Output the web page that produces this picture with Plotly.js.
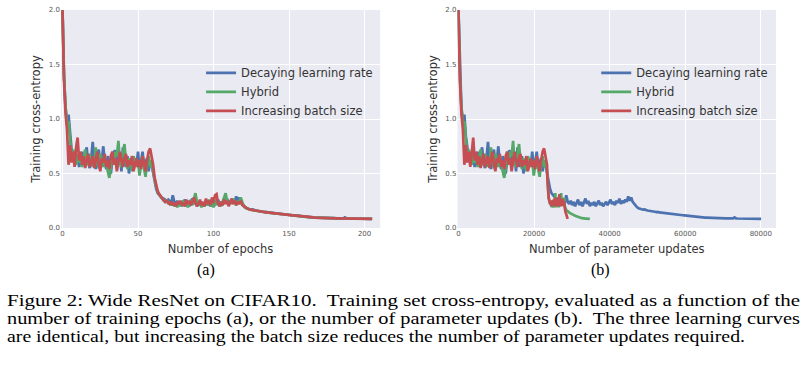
<!DOCTYPE html>
<html>
<head>
<meta charset="utf-8">
<script src="https://cdn.plot.ly/plotly-3.0.1.min.js"></script>
<style>html,body{margin:0;padding:0;background:#fff;}#chart{width:807px;height:380px;}</style>
</head>
<body>
<div id="chart"></div>
<script>
// ---- data, one value per epoch 0..205 ----
const seriesNames = ["Decaying learning rate", "Hybrid", "Increasing batch size"];
const seriesColors = ["#4C72B0", "#55A868", "#C44E52"];

const lossDecaying = [
  2.00,1.40,1.10,0.98,1.04,0.84,0.72,0.64,0.70,0.60,
  0.66,0.56,0.62,0.70,0.58,0.66,0.74,0.60,0.55,0.64,
  0.79,0.62,0.54,0.66,0.72,0.58,0.62,0.75,0.60,0.54,
  0.66,0.58,0.50,0.62,0.70,0.71,0.56,0.64,0.68,0.52,
  0.74,0.62,0.56,0.66,0.50,0.60,0.64,0.55,0.62,0.58,
  0.70,0.52,0.62,0.70,0.56,0.60,0.64,0.52,0.62,0.58,
  0.50,0.42,0.36,0.32,0.30,0.28,0.27,0.27,0.26,0.25,
  0.26,0.24,0.23,0.30,0.24,0.22,0.25,0.21,0.24,0.20,
  0.23,0.26,0.21,0.24,0.20,0.23,0.27,0.22,0.25,0.20,
  0.23,0.21,0.24,0.20,0.22,0.25,0.21,0.23,0.20,0.22,
  0.24,0.21,0.23,0.26,0.22,0.24,0.21,0.25,0.23,0.27,
  0.22,0.25,0.23,0.26,0.24,0.29,0.25,0.28,0.24,0.22,
  0.21,
  0.190,0.182,0.176,0.172,0.168,0.170,0.163,0.160,0.158,0.154,
  0.152,0.150,0.149,0.146,0.148,0.143,0.141,0.140,0.138,0.136,
  0.135,0.133,0.131,0.130,0.128,0.126,0.125,0.123,0.122,0.120,
  0.118,0.117,0.116,0.114,0.113,0.112,0.110,0.109,0.108,0.107,
  0.103,0.101,0.100,0.099,0.098,0.097,0.096,0.096,0.095,0.094,
  0.094,0.093,0.093,0.092,0.092,0.091,0.091,0.090,0.090,0.090,
  0.089,0.089,0.089,0.088,0.088,0.088,0.098,0.088,0.087,0.087,
  0.087,0.087,0.086,0.086,0.086,0.086,0.086,0.085,0.085,0.085,
  0.085,0.085,0.084,0.084,0.084
];
const lossHybrid = [
  2.00,1.38,1.12,0.95,0.98,0.80,0.66,0.72,0.62,0.58,
  0.68,0.60,0.66,0.56,0.64,0.72,0.58,0.62,0.68,0.56,
  0.62,0.58,0.74,0.60,0.55,0.68,0.62,0.56,0.64,0.58,
  0.50,0.46,0.55,0.64,0.58,0.70,0.66,0.80,0.60,0.56,
  0.68,0.77,0.62,0.54,0.64,0.58,0.52,0.66,0.60,0.56,
  0.62,0.48,0.58,0.66,0.54,0.47,0.60,0.66,0.56,0.62,
  0.52,0.44,0.38,0.33,0.31,0.28,0.27,0.25,0.24,0.26,
  0.22,0.24,0.21,0.23,0.20,0.22,0.19,0.23,0.20,0.22,
  0.25,0.20,0.22,0.19,0.23,0.26,0.21,0.28,0.32,0.24,
  0.21,0.23,0.19,0.22,0.20,0.24,0.21,0.26,0.20,0.23,
  0.19,0.22,0.26,0.21,0.24,0.20,0.25,0.28,0.32,0.24,
  0.21,0.25,0.22,0.27,0.23,0.21,0.25,0.22,0.28,0.24,
  0.20,
  0.185,0.178,0.172,0.170,0.165,0.162,0.160,0.156,0.155,0.151,
  0.150,0.147,0.147,0.144,0.142,0.141,0.139,0.137,0.136,0.134,
  0.133,0.131,0.130,0.128,0.127,0.125,0.124,0.122,0.121,0.119,
  0.118,0.116,0.115,0.114,0.112,0.111,0.110,0.108,0.107,0.106,
  0.102,0.100,0.099,0.098,0.097,0.096,0.096,0.095,0.094,0.094,
  0.093,0.093,0.092,0.092,0.091,0.091,0.090,0.090,0.090,0.089,
  0.089,0.089,0.088,0.088,0.088,0.087,0.087,0.087,0.087,0.086,
  0.086,0.086,0.086,0.086,0.085,0.085,0.085,0.085,0.085,0.084,
  0.084,0.084,0.084,0.084,0.083
];
const lossIncreasing = [
  2.00,1.35,1.05,0.90,0.58,0.76,0.60,0.70,0.56,0.74,
  0.83,0.62,0.70,0.58,0.66,0.55,0.62,0.68,0.56,0.60,
  0.66,0.55,0.63,0.70,0.58,0.52,0.64,0.60,0.68,0.56,
  0.62,0.54,0.66,0.70,0.58,0.64,0.52,0.60,0.70,0.62,
  0.56,0.64,0.68,0.56,0.62,0.58,0.66,0.52,0.60,0.64,
  0.56,0.62,0.54,0.66,0.60,0.52,0.62,0.70,0.73,0.66,
  0.58,0.46,0.39,0.34,0.31,0.29,0.27,0.26,0.24,0.25,
  0.23,0.22,0.24,0.21,0.23,0.20,0.24,0.22,0.25,0.21,
  0.23,0.20,0.26,0.22,0.25,0.21,0.24,0.28,0.23,0.20,
  0.22,0.26,0.21,0.24,0.20,0.27,0.22,0.25,0.21,0.28,
  0.23,0.30,0.31,0.22,0.20,0.24,0.21,0.26,0.22,0.25,
  0.20,0.23,0.27,0.22,0.25,0.21,0.24,0.22,0.25,0.21,
  0.20,
  0.188,0.180,0.174,0.170,0.167,0.164,0.160,0.158,0.155,0.153,
  0.151,0.149,0.147,0.146,0.144,0.142,0.140,0.139,0.137,0.135,
  0.134,0.132,0.131,0.129,0.127,0.126,0.124,0.123,0.121,0.120,
  0.118,0.117,0.115,0.114,0.113,0.111,0.110,0.109,0.107,0.106,
  0.103,0.101,0.100,0.099,0.098,0.097,0.096,0.095,0.095,0.094,
  0.093,0.093,0.092,0.092,0.091,0.091,0.090,0.090,0.090,0.089,
  0.089,0.089,0.088,0.088,0.088,0.087,0.087,0.087,0.087,0.086,
  0.086,0.086,0.086,0.085,0.085,0.085,0.085,0.085,0.084,0.084,
  0.084,0.084,0.084,0.083,0.083
];

// batch-size schedules (CIFAR10, 50000 training images); batch changes at these epochs
const trainSetSize = 50000;
const scheduleEpochs = [0, 60, 120, 160];
const batchDecaying   = [128, 128, 128, 128];
const batchHybrid     = [128, 640, 640, 640];
const batchIncreasing = [128, 640, 3200, 16000];

const yTicks = [0.0, 0.5, 1.0, 1.5, 2.0];
const xTicksEpochs = [0, 50, 100, 150, 200];
const xTicksUpdates = [0, 20000, 40000, 60000, 80000];

const captionLines = [
  'Figure 2: Wide ResNet on CIFAR10.  Training set cross-entropy, evaluated as a function of the',
  'number of training epochs (a), or the number of parameter updates (b).  The three learning curves',
  'are identical, but increasing the batch size reduces the number of parameter updates required.'
];

// ---- derived ----
const losses = [lossDecaying, lossHybrid, lossIncreasing];
const batches = [batchDecaying, batchHybrid, batchIncreasing];
function batchAt(sched, e){ let b = sched[0]; for(let i=0;i<scheduleEpochs.length;i++){ if(e>=scheduleEpochs[i]) b=sched[i]; } return b; }
function updatesFor(sched, n){ const out=[]; let u=0; for(let e=0;e<n;e++){ out.push(u); u += trainSetSize/batchAt(sched,e); } return out; }

// ---- geometry helpers (pixel -> paper) ----
const W=807, H=380, ML=61, MR=31.3, MT=9.5, MB=151.5;
const PW=W-ML-MR, PH=H-MT-MB;
const pxX = x => (x-ML)/PW;
const pxY = y => (H-MB-y)/PH;

const traces = [];
losses.forEach((ys,i)=>{
  const epochs = ys.map((_,k)=>k);
  traces.push({x:epochs, y:ys, type:'scatter', mode:'lines', name:seriesNames[i],
    line:{color:seriesColors[i], width:2.7}, xaxis:'x', yaxis:'y', legend:'legend'});
});
losses.forEach((ys,i)=>{
  traces.push({x:updatesFor(batches[i], ys.length), y:ys, type:'scatter', mode:'lines', name:seriesNames[i],
    line:{color:seriesColors[i], width:2.7}, xaxis:'x2', yaxis:'y2', legend:'legend2'});
});

const tickFont = {family:'DejaVu Sans', size:7, color:'#555'};
const titleFont = {family:'DejaVu Sans', size:11.5, color:'#333'};
const legendFont = {family:'DejaVu Sans', size:11.5, color:'#333'};
const axBase = {showgrid:true, gridcolor:'#ffffff', gridwidth:1, zeroline:false, showline:false, ticks:'', tickfont:tickFont};

const capFont = {family:'Liberation Serif', size:16, color:'#000'};
const capY = [302, 320, 338];
const capAnn = captionLines.map((t,i)=>({text:t, x:pxX(7), y:pxY(capY[i]), xref:'paper', yref:'paper', showarrow:false,
  xanchor:'left', yanchor:'middle', font:capFont}));

const layout = {
  width:W, height:H, margin:{l:ML, r:MR, t:MT, b:MB},
  paper_bgcolor:'#ffffff', plot_bgcolor:'#EAEAF2', showlegend:true,
  xaxis: Object.assign({}, axBase, {domain:[0, pxX(380)], range:[-1, 210.3], tickvals:xTicksEpochs, ticktext:xTicksEpochs.map(String),
    title:{text:'Number of epochs', font:titleFont, standoff:7}, anchor:'y'}),
  yaxis: Object.assign({}, axBase, {domain:[0,1], range:[0,2], tickvals:yTicks, ticktext:yTicks.map(v=>v.toFixed(1)),
    title:{text:'Training cross-entropy', font:titleFont, standoff:5}, anchor:'x'}),
  xaxis2: Object.assign({}, axBase, {domain:[pxX(457.3), 1], range:[-265, 84020], tickvals:xTicksUpdates, ticktext:xTicksUpdates.map(String),
    title:{text:'Number of parameter updates', font:titleFont, standoff:7}, anchor:'y2'}),
  yaxis2: Object.assign({}, axBase, {domain:[0,1], range:[0,2], tickvals:yTicks, ticktext:yTicks.map(v=>v.toFixed(1)),
    title:{text:'Training cross-entropy', font:titleFont, standoff:5}, anchor:'x2'}),
  legend: {x:pxX(201), y:pxY(58), xanchor:'left', yanchor:'top', bgcolor:'rgba(0,0,0,0)', borderwidth:0, font:legendFont},
  legend2: {x:pxX(596), y:pxY(58), xanchor:'left', yanchor:'top', bgcolor:'rgba(0,0,0,0)', borderwidth:0, font:legendFont},
  annotations: [
    {text:'(a)', x:pxX(206), y:pxY(271), xref:'paper', yref:'paper', showarrow:false, xanchor:'center', yanchor:'middle', font:{family:'Liberation Serif', size:16, color:'#000'}},
    {text:'(b)', x:pxX(600), y:pxY(271), xref:'paper', yref:'paper', showarrow:false, xanchor:'center', yanchor:'middle', font:{family:'Liberation Serif', size:16, color:'#000'}}
  ].concat(capAnn)
};

// target text extents of the caption lines (left edge, width) – first two are justified
const capLeft = 7, capWidths = [793, 793, 738];

Plotly.newPlot('chart', traces, layout, {displayModeBar:false, staticPlot:true}).then(gd=>{
  const texts = gd.querySelectorAll('.annotation-text');
  captionLines.forEach((t,i)=>{
    const el = Array.from(texts).find(e=>e.textContent===t);
    if(!el) return;
    el.setAttribute('textLength', capWidths[i]);
    el.setAttribute('lengthAdjust', 'spacingAndGlyphs');
    const bb = el.getBoundingClientRect();
    const host = gd.getBoundingClientRect();
    const dx = (capLeft + host.left) - bb.left;
    const x0 = parseFloat(el.getAttribute('x')||'0');
    el.setAttribute('x', x0 + dx);
  });
});
</script>
</body>
</html>
